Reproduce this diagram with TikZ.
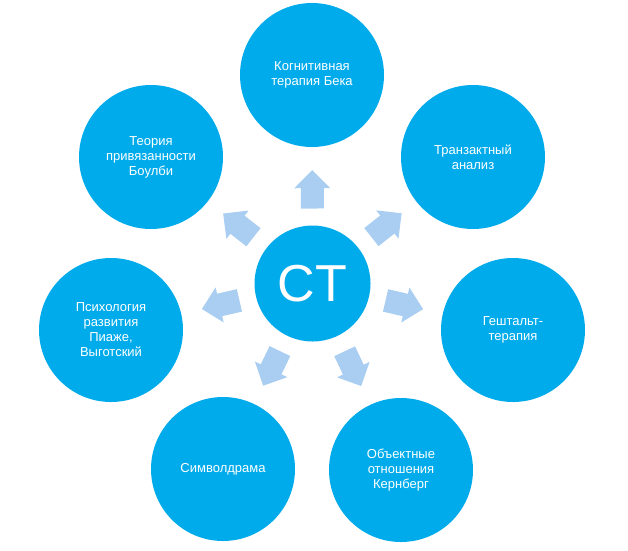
\documentclass[tikz,border=0pt]{standalone}
\usepackage{fontspec}
\setmainfont{Liberation Sans}
\definecolor{circblue}{RGB}{0,171,235}
\definecolor{arrowblue}{RGB}{169,206,242}
\tikzset{
  outer/.style={circle, fill=circblue, minimum size=144pt, inner sep=0pt,
    text=white, align=center, font=\fontsize{13}{15}\selectfont},
  hub/.style={circle, fill=circblue, minimum size=116pt, inner sep=0pt,
    text=white, font=\fontsize{52}{52}\selectfont},
  blockarrow/.style={fill=arrowblue}
}
\begin{document}
\begin{tikzpicture}[x=1pt,y=-1pt]
\useasboundingbox (0,0) rectangle (628,550);
\node[hub] (ct) at (312.5,283.5) {CT};
\node[outer] (c1) at (312,75) {Когнитивная\\терапия Бека};
\node[outer] (c2) at (473,157) {Транзактный\\анализ};
\node[outer] (c3) at (513,330) {Гештальт-\\терапия};
\node[outer] (c4) at (401,470) {Объектные\\отношения\\Кернберг};
\node[outer] (c5) at (223,469) {Символдрама};
\node[outer] (c6) at (111,330) {Психология\\развития\\Пиаже,\\Выготский};
\node[outer] (c7) at (151,157) {Теория\\привязанности\\Боулби};
\foreach \t in {c1,c2,c3,c4,c5,c6,c7}{
  \pgfmathanglebetweenpoints{\pgfpointanchor{ct}{center}}{\pgfpointanchor{\t}{center}}
  \let\ang\pgfmathresult
  \begin{scope}[shift={(ct.center)}, rotate=\ang]
    \fill[blockarrow] (75,-11.5) -- (95.3,-11.5) -- (95.3,-18) -- (113.5,0)
      -- (95.3,18) -- (95.3,11.5) -- (75,11.5) -- cycle;
  \end{scope}
}
\end{tikzpicture}
\end{document}
